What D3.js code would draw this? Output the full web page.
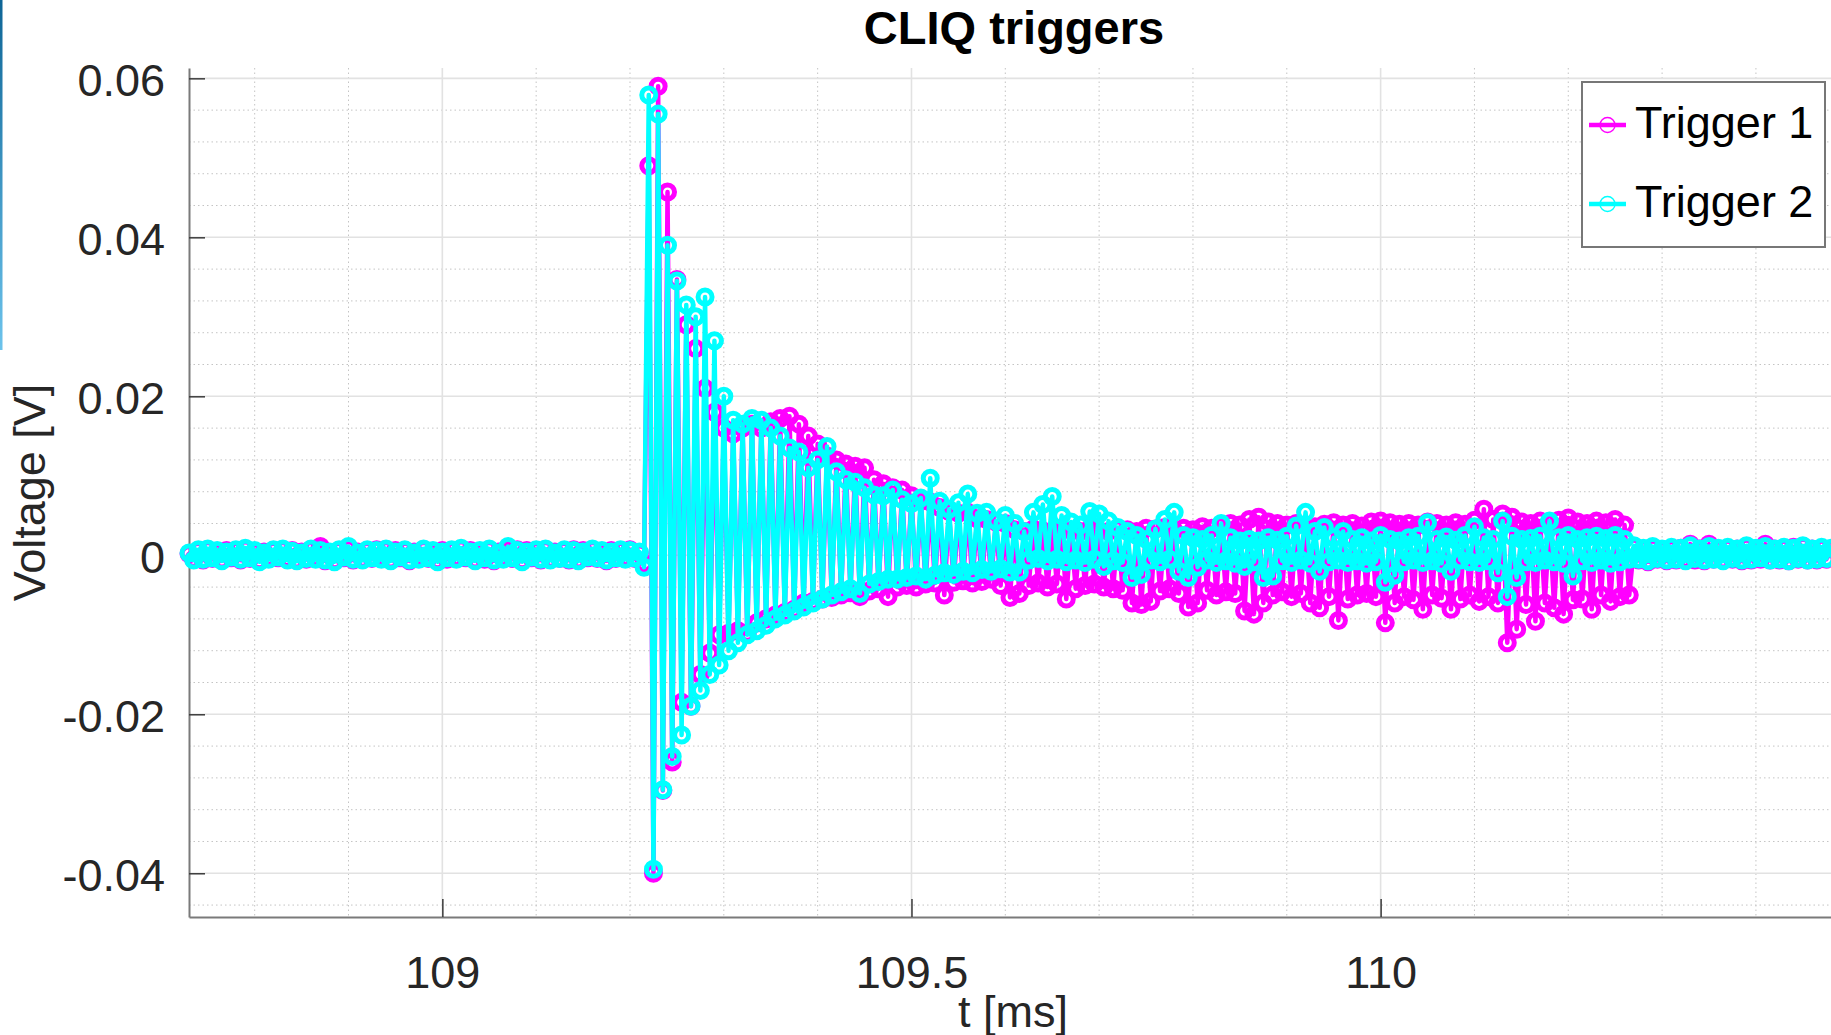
<!DOCTYPE html>
<html>
<head>
<meta charset="utf-8">
<script src="https://cdn.jsdelivr.net/npm/d3@7"></script>
<style>
  body { margin: 0; background: #fff; }
  svg { display: block; font-family: "Liberation Sans", Arial, sans-serif; }
</style>
</head>
<body>
<svg id="chart"></svg>
<script>
// sampled voltages, in units of 0.1 mV, one sample every 5 us from t0
const t0 = 108.73
const dt = 0.005

// Trigger 1 (magenta)
const trig1Pre = [
  2,-5,6,-6,7,-4,4,-6,6,-3,
  6,-6,8,-4,4,-7,4,-3,6,-3,
  7,-4,6,-6,4,-5,7,-3,11,-7,
  3,-7,6,-3,8,-6,4,-5,6,-4,
  7,-3,7,-6,6,-3,6,-7,4,-3,
  7,-4,4,-7,6,-5,6,-3,8,-3,
  6,-6,4,-5,7,-7,4,-3,6,-4,
  7,-7,6,-3,6,-6,7,-5,4,-4,
  6,-6,7,-6,6,-3,7,-4,4,-7,
  6,-4,6,-3,7,-4,3,-10
]
const trig1Spike = [
  490,-400,590,-296,457,-260,347,-185,290,-190,
  260,-150,210,-123,180,-100,160,-98,153,-95,
  160,-98,165,-85,160,-80,168,-75,172,-72,
  175,-68,165,-60,150,-58,140,-55,125,-53,
  120,-50,115,-47,112,-52,110,-45,95,-42,
  90,-52,85,-40,82,-38,75,-40,68,-36,
  67,-35,60,-50,55,-34,53,-32,54,-35,
  46,-33,45,-30,42,-38,40,-53
]
const trig1Ring = [
  32,-48,30,-38,33,-35,31,-40,30,-36,
  34,-55,31,-42,30,-38,33,-36,31,-40,
  30,-42,33,-44,32,-60,30,-62,34,-58,
  33,-45,35,-42,31,-48,34,-65,32,-60,
  36,-44,34,-50,37,-46,40,-48,38,-70,
  45,-74,48,-60,42,-50,40,-46,38,-52,
  40,-48,38,-60,36,-66,39,-52,41,-82,
  38,-55,40,-50,37,-48,42,-52,43,-85,
  41,-60,39,-52,40,-56,38,-68,42,-50,
  40,-54,38,-68,41,-55,39,-50,44,-58,
  58,-52,45,-60,52,-110,48,-93,42,-62,
  40,-83,43,-60,41,-66,44,-74,47,-56,
  42,-55,40,-68,43,-50,41,-58,45,-52,
  38,-50
]
const trig1Post = [
  10,-6,8,-8,9,-5,7,-7,8,-6,
  9,-5,14,-6,8,-7,14,-5,8,-6,
  9,-5,8,-7,10,-6,8,-5,14,-6,
  8,-6,9,-7,10,-5,11,-6,8,-6,
  9,-5,8
]

// Trigger 2 (cyan)
const trig2Pre = [
  3,-6,7,-5,8,-3,6,-7,4,-2,
  7,-5,9,-3,6,-8,3,-5,7,-2,
  8,-6,5,-7,3,-4,8,-5,6,-6,
  4,-8,7,-2,11,-5,3,-6,7,-3,
  6,-5,8,-7,4,-2,7,-6,3,-5,
  8,-3,6,-8,4,-3,7,-5,9,-2,
  4,-7,6,-3,8,-6,3,-5,11,-3,
  6,-8,4,-2,7,-5,8,-6,3,-4,
  7,-5,6,-7,4,-2,8,-3,6,-6,
  4,-3,7,-5,6,-3,4,-15
]
const trig2Spike = [
  579,-395,555,-295,390,-253,345,-226,315,-190,
  300,-170,325,-150,270,-138,200,-120,170,-110,
  165,-100,172,-95,170,-88,160,-80,150,-75,
  135,-70,130,-65,110,-60,120,-55,137,-50,
  105,-46,95,-42,92,-48,85,-36,76,-33,
  75,-30,82,-30,70,-28,65,-26,72,-30,
  97,-25,68,-22,58,-24,66,-20,77,-22,
  53,-18,54,-20,43,-17,50,-21
]
const trig2Ring = [
  40,-21,30,-6,54,-4,64,-7,74,-5,
  50,-8,42,-6,38,-9,55,-5,52,-14,
  43,-7,35,-9,30,-28,25,-24,20,-6,
  33,-8,45,-5,54,-20,25,-28,22,-15,
  20,-6,25,-9,40,-7,22,-10,18,-14,
  20,-8,18,-28,22,-26,19,-7,24,-9,
  37,-6,54,-10,30,-20,35,-8,22,-6,
  30,-9,20,-7,22,-10,18,-8,25,-34,
  20,-25,18,-8,22,-6,24,-9,41,-7,
  20,-10,23,-20,19,-6,25,-8,36,-9,
  22,-7,20,-22,43,-52,24,-28,20,-8,
  21,-9,24,-6,43,-8,22,-10,25,-26,
  20,-7,22,-9,24,-6,21,-10,25,-8,
  20,-5
]
const trig2Post = [
  12,-5,9,-7,11,-4,8,-6,10,-5,
  9,-7,12,-4,8,-6,11,-5,9,-7,
  10,-4,8,-6,12,-5,9,-3,11,-6,
  8,-5,10,-7,9,-4,12,-6,8,-5,
  10,-4,9
]

const yMajor = [-0.04, -0.02, 0, 0.02, 0.04, 0.06]
const xMajor = [109, 109.5, 110]
const seriesNames = ['Trigger 1', 'Trigger 2']
const seriesColors = ['#ff00ff', '#00ffff']

const trig1 = [...trig1Pre, ...trig1Spike, ...trig1Ring, ...trig1Post]
const trig2 = [...trig2Pre, ...trig2Spike, ...trig2Ring, ...trig2Post]
if (trig1.length !== trig2.length) throw new Error(`length mismatch ${trig1.length} ${trig2.length}`)

const series = [trig1, trig2].map((vals, k) => ({
  name: seriesNames[k],
  color: seriesColors[k],
  points: vals.map((v, i) => ({ t: t0 + i * dt, v: v * 1e-4 }))
}))

const width = 1831
const height = 1035
const plot = { left: 189, right: 1831, top: 68, bottom: 917 }

const x = d3.scaleLinear().domain([108.73, 110.48]).range([plot.left, plot.right])
const y = d3.scaleLinear().domain([-0.0455, 0.0613]).range([plot.bottom, plot.top])

const svg = d3.select('#chart')
  .attr('width', width)
  .attr('height', height)
  .attr('viewBox', [0, 0, width, height])

// window edge strip
const grad = svg.append('defs').append('linearGradient')
  .attr('id', 'edge').attr('x1', 0).attr('y1', 0).attr('x2', 0).attr('y2', 1)
grad.append('stop').attr('offset', 0).attr('stop-color', '#0e6596')
grad.append('stop').attr('offset', 1).attr('stop-color', '#6cc3ec')
svg.append('rect').attr('x', 0).attr('y', 0).attr('width', 2.5).attr('height', 350).attr('fill', 'url(#edge)')

// grid
const xMinor = d3.range(1088, 1105).map(d => d / 10).filter(d => Math.abs(d * 2 - Math.round(d * 2)) > 1e-6)
const yMinor = d3.range(-44, 64, 4).filter(k => k % 20 !== 0).map(k => k / 1000)

const grid = svg.append('g')
grid.selectAll('.xmin').data(xMinor).join('line')
  .attr('x1', d => x(d)).attr('x2', d => x(d))
  .attr('y1', plot.top).attr('y2', plot.bottom)
  .attr('stroke', '#c4c4c4').attr('stroke-dasharray', '1.5,3')
grid.selectAll('.ymin').data(yMinor).join('line')
  .attr('x1', plot.left).attr('x2', plot.right)
  .attr('y1', d => y(d)).attr('y2', d => y(d))
  .attr('stroke', '#c4c4c4').attr('stroke-dasharray', '1.5,3')
grid.selectAll('.xmaj').data(xMajor).join('line')
  .attr('x1', d => x(d)).attr('x2', d => x(d))
  .attr('y1', plot.top).attr('y2', plot.bottom)
  .attr('stroke', '#e2e2e2').attr('stroke-width', 1.6)
grid.selectAll('.ymaj').data(yMajor).join('line')
  .attr('x1', plot.left).attr('x2', plot.right)
  .attr('y1', d => y(d)).attr('y2', d => y(d))
  .attr('stroke', '#e2e2e2').attr('stroke-width', 1.6)

// axes
const yAxis = svg.append('g')
  .attr('transform', `translate(${plot.left},0)`)
  .call(d3.axisLeft(y).tickValues(yMajor).tickSize(-16).tickSizeOuter(0).tickPadding(24)
    .tickFormat(d => String(+d.toFixed(2))))
const xAxis = svg.append('g')
  .attr('transform', `translate(0,${plot.bottom})`)
  .call(d3.axisBottom(x).tickValues(xMajor).tickSize(-18).tickSizeOuter(0).tickPadding(39)
    .tickFormat(d => String(d)))

for (const ax of [yAxis, xAxis]) {
  ax.attr('font-size', 45).attr('font-family', null)
  ax.select('.domain').attr('stroke', '#7a7a7a').attr('stroke-width', 2)
  ax.selectAll('.tick line').attr('stroke', '#3a3a3a').attr('stroke-width', 1.5)
  ax.selectAll('.tick text').attr('fill', '#262626')
}
yAxis.selectAll('.tick text').attr('dy', '0.39em')

// data
const line = d3.line().x(d => x(d.t)).y(d => y(d.v))
for (const s of series) {
  const g = svg.append('g')
  g.append('path')
    .attr('d', line(s.points))
    .attr('fill', 'none')
    .attr('stroke', s.color)
    .attr('stroke-width', 4.5)
    .attr('stroke-linejoin', 'round')
  g.selectAll('circle').data(s.points).join('circle')
    .attr('cx', d => x(d.t))
    .attr('cy', d => y(d.v))
    .attr('r', 7)
    .attr('fill', 'none')
    .attr('stroke', s.color)
    .attr('stroke-width', 5)
}

// labels
svg.append('text')
  .attr('x', 1014).attr('y', 44)
  .attr('text-anchor', 'middle')
  .attr('font-size', 47).attr('font-weight', 'bold')
  .text('CLIQ triggers')

svg.append('text')
  .attr('x', 1013).attr('y', 1027)
  .attr('text-anchor', 'middle')
  .attr('font-size', 45).attr('fill', '#262626')
  .text('t [ms]')

svg.append('text')
  .attr('transform', `translate(45,${(plot.top + plot.bottom) / 2}) rotate(-90)`)
  .attr('text-anchor', 'middle')
  .attr('font-size', 45).attr('fill', '#262626')
  .text('Voltage [V]')

// legend
const legend = svg.append('g')
legend.append('rect')
  .attr('x', 1582).attr('y', 82).attr('width', 243).attr('height', 165)
  .attr('fill', '#fff').attr('stroke', '#777').attr('stroke-width', 2)
const rows = legend.selectAll('.row').data(series).join('g')
  .attr('transform', (d, i) => `translate(0,${125 + i * 79})`)
rows.append('line')
  .attr('x1', 1589).attr('x2', 1626)
  .attr('stroke', d => d.color).attr('stroke-width', 4.5)
rows.append('circle')
  .attr('cx', 1607.5).attr('r', 7.5)
  .attr('fill', 'none').attr('stroke', d => d.color).attr('stroke-width', 1.4)
rows.append('text')
  .attr('x', 1635).attr('y', 13)
  .attr('font-size', 45)
  .text(d => d.name)
</script>
</body>
</html>
